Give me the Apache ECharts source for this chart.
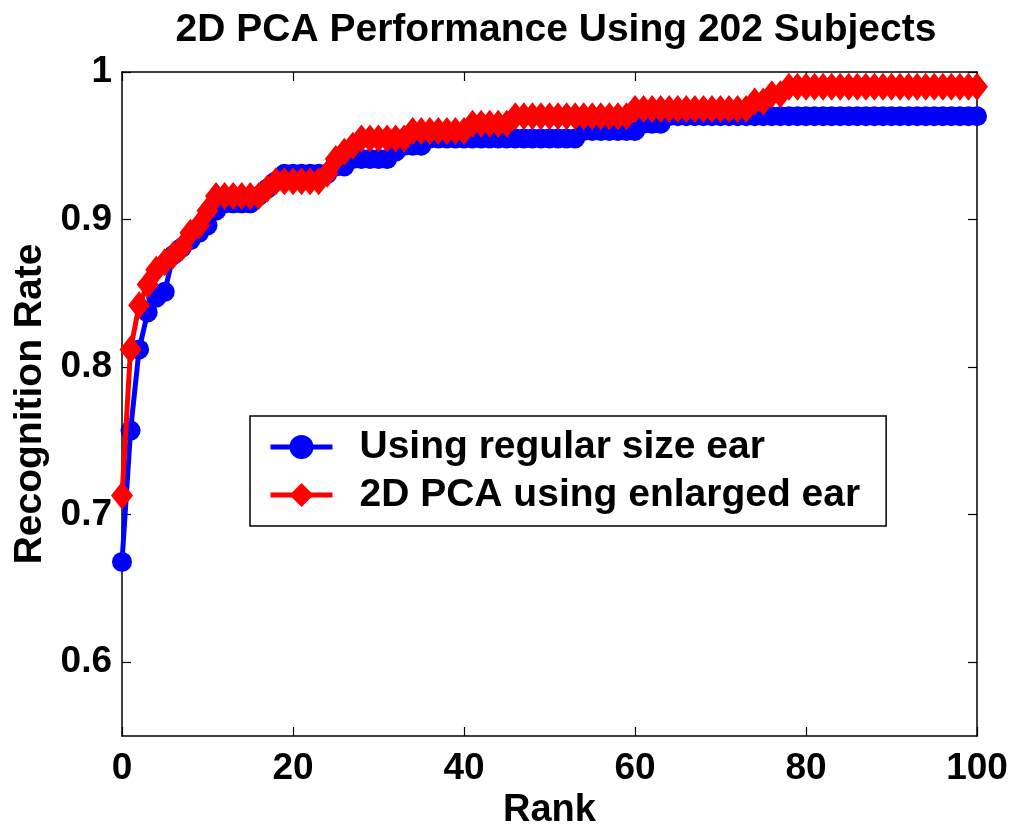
<!DOCTYPE html>
<html>
<head>
<meta charset="utf-8">
<script src="https://cdn.jsdelivr.net/npm/echarts@6/dist/echarts.min.js"></script>
<style>html,body{margin:0;padding:0;background:#fff;}#c{width:1021px;height:829px;}</style>
</head>
<body>
<div id="c"></div>
<script>
const titleText = '2D PCA Performance Using 202 Subjects';
const xName = 'Rank';
const yName = 'Recognition Rate';
const seriesNames = ['Using regular size ear', '2D PCA using enlarged ear'];
const xTicks = [0, 20, 40, 60, 80, 100];
const yTicks = [0.6, 0.7, 0.8, 0.9, 1];
const regular = [
  0.668, 0.757, 0.812, 0.837, 0.847, 0.851, 0.876, 0.881, 0.886, 0.891,
  0.896, 0.906, 0.911, 0.911, 0.911, 0.911, 0.916, 0.921, 0.926, 0.931,
  0.931, 0.931, 0.931, 0.931, 0.931, 0.936, 0.936, 0.941, 0.941, 0.941,
  0.941, 0.941, 0.946, 0.950, 0.950, 0.950, 0.955, 0.955, 0.955, 0.955,
  0.955, 0.955, 0.955, 0.955, 0.955, 0.955, 0.955, 0.955, 0.955, 0.955,
  0.955, 0.955, 0.955, 0.955, 0.960, 0.960, 0.960, 0.960, 0.960, 0.960,
  0.960, 0.965, 0.965, 0.965, 0.970, 0.970, 0.970, 0.970, 0.970, 0.970,
  0.970, 0.970, 0.970, 0.970, 0.970, 0.970, 0.970, 0.970, 0.970, 0.970,
  0.970, 0.970, 0.970, 0.970, 0.970, 0.970, 0.970, 0.970, 0.970, 0.970,
  0.970, 0.970, 0.970, 0.970, 0.970, 0.970, 0.970, 0.970, 0.970, 0.970,
  0.970
];
const enlarged = [
  0.713, 0.812, 0.842, 0.856, 0.866, 0.871, 0.876, 0.881, 0.891, 0.896,
  0.906, 0.916, 0.916, 0.916, 0.916, 0.916, 0.916, 0.921, 0.926, 0.926,
  0.926, 0.926, 0.926, 0.926, 0.931, 0.941, 0.946, 0.950, 0.955, 0.955,
  0.955, 0.955, 0.955, 0.955, 0.960, 0.960, 0.960, 0.960, 0.960, 0.960,
  0.960, 0.965, 0.965, 0.965, 0.965, 0.965, 0.970, 0.970, 0.970, 0.970,
  0.970, 0.970, 0.970, 0.970, 0.970, 0.970, 0.970, 0.970, 0.970, 0.970,
  0.975, 0.975, 0.975, 0.975, 0.975, 0.975, 0.975, 0.975, 0.975, 0.975,
  0.975, 0.975, 0.975, 0.975, 0.980, 0.980, 0.985, 0.985, 0.990, 0.990,
  0.990, 0.990, 0.990, 0.990, 0.990, 0.990, 0.990, 0.990, 0.990, 0.990,
  0.990, 0.990, 0.990, 0.990, 0.990, 0.990, 0.990, 0.990, 0.990, 0.990,
  0.990
];

const FONT = "'Liberation Sans', Arial, Helvetica, sans-serif";
const toPairs = arr => arr.map((v, i) => [i, v]);
const fmtY = v => String(Number(v.toFixed(2)));
const axisLineStyle = { color: '#000', width: 1.5 };
const tickStyle = { color: '#000', width: 1.2 };

const chart = echarts.init(document.getElementById('c'), null, { renderer: 'canvas' });
chart.setOption({
  backgroundColor: '#fff',
  animation: false,
  title: {
    text: titleText,
    left: 551, textAlign: 'center', top: 6,
    textStyle: { fontFamily: FONT, fontWeight: 'bold', fontSize: 39, color: '#000' }
  },
  grid: { left: 122, right: 44, top: 72, bottom: 93, containLabel: false, outerBoundsMode: 'none' },
  legend: {
    left: 250, top: 416,
    orient: 'vertical',
    backgroundColor: '#fff',
    borderColor: '#000', borderWidth: 1.5,
    padding: [8, 26, 8, 18],
    itemGap: 2,
    itemWidth: 62, itemHeight: 30,
    lineStyle: { width: 5 },
    textStyle: { fontFamily: FONT, fontWeight: 'bold', fontSize: 39, lineHeight: 46, color: '#000', padding: [0, 0, 0, 22] },
    data: seriesNames
  },
  xAxis: [{
    type: 'value', min: xTicks[0], max: xTicks[xTicks.length - 1], interval: 20,
    position: 'bottom',
    name: xName, nameLocation: 'middle', nameGap: 50,
    nameTextStyle: { fontFamily: FONT, fontWeight: 'bold', fontSize: 38, color: '#000' },
    axisLine: { show: true, onZero: false, lineStyle: axisLineStyle },
    axisTick: { show: true, inside: true, length: 9, lineStyle: tickStyle, customValues: xTicks },
    axisLabel: { show: true, margin: 14, fontFamily: FONT, fontWeight: 'bold', fontSize: 37, color: '#000', customValues: xTicks },
    splitLine: { show: false }
  }, {
    type: 'value', min: xTicks[0], max: xTicks[xTicks.length - 1], interval: 20,
    position: 'top',
    axisLine: { show: true, onZero: false, lineStyle: axisLineStyle },
    axisTick: { show: true, inside: true, length: 9, lineStyle: tickStyle, customValues: xTicks },
    axisLabel: { show: false },
    splitLine: { show: false }
  }],
  yAxis: [{
    type: 'value', min: 0.55, max: 1,
    position: 'left',
    name: yName, nameLocation: 'middle', nameGap: 72, nameRotate: 90,
    nameTextStyle: { fontFamily: FONT, fontWeight: 'bold', fontSize: 39, color: '#000' },
    axisLine: { show: true, onZero: false, lineStyle: axisLineStyle },
    axisTick: { show: true, inside: true, length: 9, lineStyle: tickStyle, customValues: yTicks },
    axisLabel: { show: true, margin: 10, fontFamily: FONT, fontWeight: 'bold', fontSize: 37, color: '#000', customValues: yTicks, formatter: fmtY },
    splitLine: { show: false }
  }, {
    type: 'value', min: 0.55, max: 1,
    position: 'right',
    axisLine: { show: true, onZero: false, lineStyle: axisLineStyle },
    axisTick: { show: true, inside: true, length: 9, lineStyle: tickStyle, customValues: yTicks },
    axisLabel: { show: false },
    splitLine: { show: false }
  }],
  series: [{
    name: seriesNames[0], type: 'line', xAxisIndex: 0, yAxisIndex: 0,
    data: toPairs(regular),
    symbol: 'circle', symbolSize: 20,
    clip: false,
    lineStyle: { color: '#0000ff', width: 5 },
    itemStyle: { color: '#0000ff' },
    z: 2
  }, {
    name: seriesNames[1], type: 'line', xAxisIndex: 0, yAxisIndex: 0,
    data: toPairs(enlarged),
    symbol: 'diamond', symbolSize: [22, 28],
    clip: false,
    lineStyle: { color: '#ff0000', width: 5 },
    itemStyle: { color: '#ff0000' },
    z: 3
  }]
});
</script>
</body>
</html>
